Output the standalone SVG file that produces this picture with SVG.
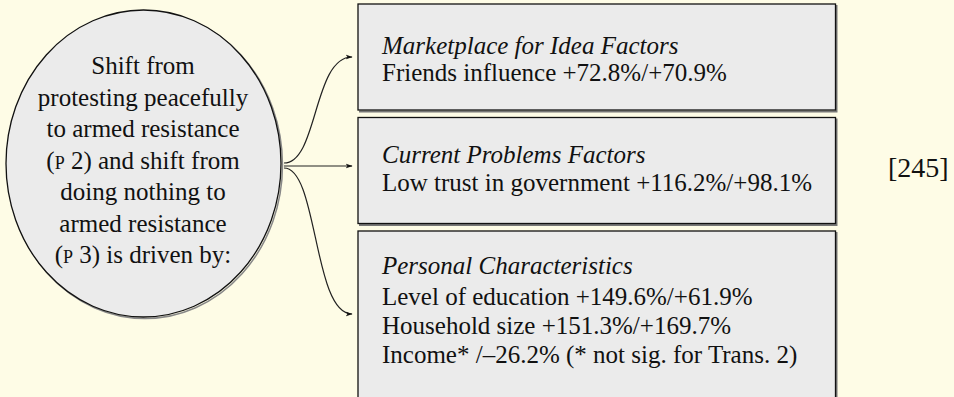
<svg xmlns="http://www.w3.org/2000/svg" width="954" height="397" viewBox="0 0 954 397">
<defs>
<style>
.bg{fill:#fefce6}
.node{fill:#ebebeb;stroke:#111;stroke-width:1.3}
.shadow{fill:none;stroke:#777;stroke-width:2}
.t{font-family:'Liberation Serif','Tinos','Times New Roman','DejaVu Serif',serif;font-size:25px;fill:#111}
.c{text-anchor:middle}
.i{font-style:italic}
.sc{font-size:18px}
.edge{fill:none;stroke:#222;stroke-width:1.2}
</style>
<marker id="arr" viewBox="0 0 10 10" refX="9" refY="5" markerWidth="7" markerHeight="7" markerUnits="userSpaceOnUse" orient="auto">
<path d="M0,1.5 L10,5 L0,8.5 L2.5,5 Z" fill="#111"/>
</marker>
</defs>
<rect class="bg" x="0" y="0" width="954" height="397"/>

<g id="source" font-family="Liberation Serif, serif">
<ellipse cx="145" cy="165" rx="137.5" ry="153.5" fill="none" stroke="#888" stroke-width="1.5"/>
<ellipse class="node" cx="143.5" cy="163.5" rx="137.5" ry="153.5"/>
<text class="t c" x="143" y="74">Shift from</text>
<text class="t c" x="143" y="105.5">protesting peacefully</text>
<text class="t c" x="143" y="137">to armed resistance</text>
<text class="t c" x="143" y="168.5">(<tspan class="sc">P</tspan> 2) and shift from</text>
<text class="t c" x="143" y="200">doing nothing to</text>
<text class="t c" x="143" y="231.5">armed resistance</text>
<text class="t c" x="143" y="263">(<tspan class="sc">P</tspan> 3) is driven by:</text>
</g>

<g id="box-marketplace" font-family="Liberation Serif, serif">
<path class="shadow" d="M836.5,5 V111.5 H359"/>
<rect class="node" x="358" y="4" width="477.5" height="106"/>
<text class="t i" x="382" y="54">Marketplace for Idea Factors</text>
<text class="t" x="382" y="81">Friends influence +72.8%/+70.9%</text>
</g>

<g id="box-current" font-family="Liberation Serif, serif">
<path class="shadow" d="M836.5,118.5 V225 H359"/>
<rect class="node" x="358" y="117.5" width="477.5" height="106"/>
<text class="t i" x="382" y="163">Current Problems Factors</text>
<text class="t" x="382" y="191">Low trust in government +116.2%/+98.1%</text>
</g>

<g id="box-personal" font-family="Liberation Serif, serif">
<path class="shadow" d="M836.5,232 V400"/>
<rect class="node" x="358" y="231" width="477.5" height="175"/>
<text class="t i" x="382" y="274">Personal Characteristics</text>
<text class="t" x="382" y="305">Level of education +149.6%/+61.9%</text>
<text class="t" x="382" y="334">Household size +151.3%/+169.7%</text>
<text class="t" x="382" y="363">Income* /–26.2% (* not sig. for Trans. 2)</text>
</g>

<g id="connectors">
<path class="edge" d="M284,163 C318,163 313,57 352,57" marker-end="url(#arr)"/>
<path class="edge" d="M284,166 L352,166" marker-end="url(#arr)"/>
<path class="edge" d="M284,168 C318,168 313,314 352,314" marker-end="url(#arr)"/>
</g>

<text id="page-ref" class="t" x="888" y="177" style="font-size:28px">[245]</text>
</svg>
